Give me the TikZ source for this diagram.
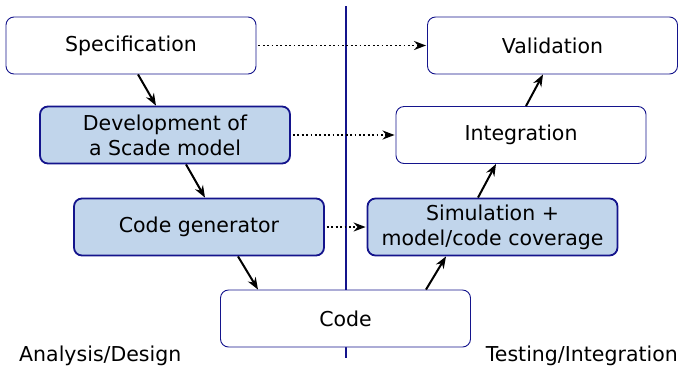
\documentclass[tikz,border=0pt]{standalone}
\usepackage{fontspec}
\setmainfont{DejaVu Sans}
\usetikzlibrary{arrows.meta}
\definecolor{navy}{RGB}{20,20,140}
\definecolor{paleblue}{RGB}{193,213,235}
\begin{document}
\begin{tikzpicture}[x=1pt,y=-1pt,
  box/.style={draw=navy,line width=0.9pt,rounded corners=8pt,fill=white,
    minimum width=250pt,minimum height=57pt,align=center,inner sep=0pt,
    font=\fontsize{20.5}{25}\selectfont},
  toolbox/.style={box,fill=paleblue,line width=1.8pt},
  flow/.style={-{Stealth[length=12pt,width=9pt]},line width=2pt},
  trace/.style={-{Stealth[length=12pt,width=9pt]},line width=1.8pt,
    dash pattern=on 1.8pt off 2.6pt},
  side/.style={font=\fontsize{20.5}{25}\selectfont,inner sep=0pt}]
\useasboundingbox (0,0) rectangle (679,373);
% dividing line between design and testing sides
\draw[navy,line width=1.4pt] (346,6) -- (346,358);
% left branch
\node[box] (spec) at (131,45.5) {Specification};
\node[toolbox] (dev) at (165,135) {Development of\\a Scade model};
\node[toolbox] (gen) at (199,227) {Code generator};
% bottom
\node[box] (code) at (345.5,318.5) {Code};
% right branch
\node[toolbox] (sim) at (492.5,227) {Simulation +\\model/code coverage};
\node[box] (integ) at (521,135) {Integration};
\node[box] (valid) at (552.5,45.5) {Validation};
% labels
\node[side,anchor=west] (ad) at (19,356) {Analysis/Design};
\node[side,anchor=east] (ti) at (678,356) {Testing/Integration};
% development flow
\draw[flow] (spec.south -| 138,0) -- (dev.north -| 156,0);
\draw[flow] (dev.south -| 186,0) -- (gen.north -| 205,0);
\draw[flow] (gen.south -| 238,0) -- (code.north -| 258,0);
\draw[flow] (code.north -| 426,0) -- (sim.south -| 446,0);
\draw[flow] (sim.north -| 478,0) -- (integ.south -| 496,0);
\draw[flow] (integ.north -| 526,0) -- (valid.south -| 543,0);
% correspondences
\draw[trace] (spec.east) ++(2,0) -- ([xshift=-1pt]valid.west);
\draw[trace] (dev.east) ++(2,0) -- ([xshift=-1pt]integ.west);
\draw[trace] (gen.east) ++(2,0) -- ([xshift=-1pt]sim.west);
\end{tikzpicture}
\end{document}
